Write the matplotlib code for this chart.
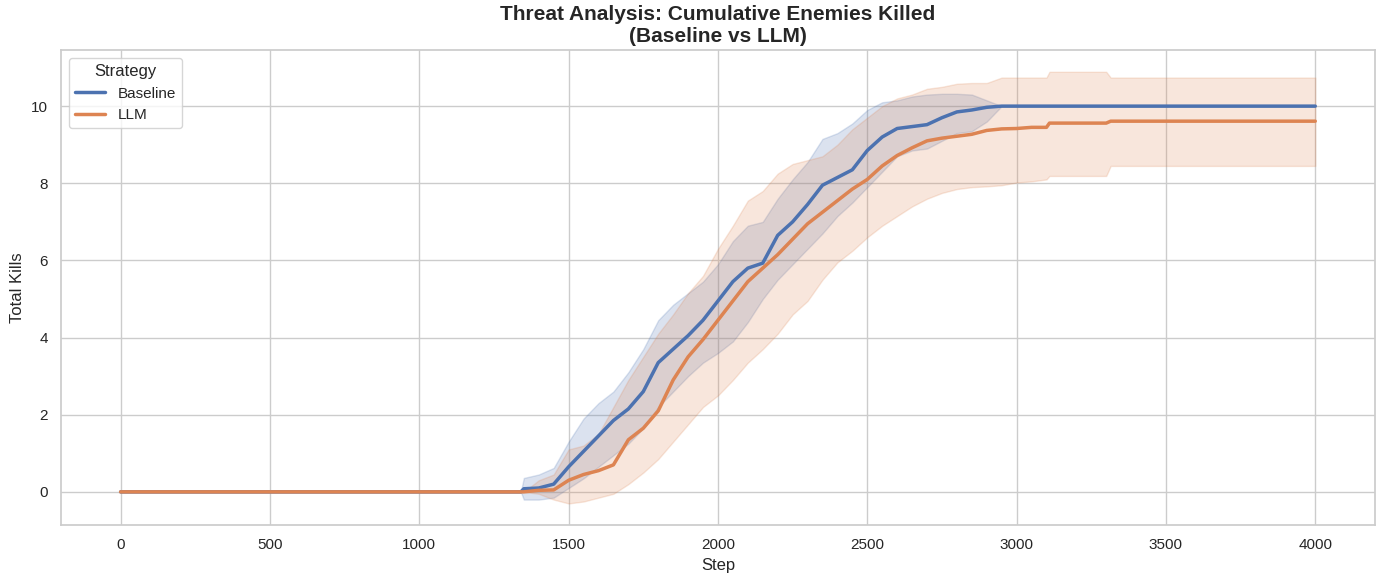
import matplotlib
matplotlib.use("Agg")
import matplotlib.pyplot as plt
import seaborn as sns
import numpy as np

steps = [0, 1340, 1350, 1400, 1450, 1500, 1550, 1600, 1650, 1700, 1750, 1800, 1850,
         1900, 1950, 2000, 2050, 2100, 2150, 2200, 2250, 2300, 2350, 2400, 2450,
         2500, 2550, 2600, 2650, 2700, 2750, 2800, 2850, 2900, 2950, 3000, 3050,
         3100, 3110, 3300, 3315, 4000]

baseline_mean = [0, 0, 0.08, 0.1, 0.2, 0.65, 1.05, 1.45, 1.85, 2.15, 2.6, 3.35, 3.7,
                 4.05, 4.45, 4.95, 5.45, 5.8, 5.93, 6.65, 7.0, 7.45, 7.95, 8.15, 8.35,
                 8.85, 9.2, 9.42, 9.47, 9.52, 9.7, 9.85, 9.9, 9.97, 10, 10, 10,
                 10, 10, 10, 10, 10]
baseline_low = [0, 0, -0.2, -0.2, -0.15, 0.1, 0.35, 0.65, 0.95, 1.25, 1.65, 2.2, 2.6,
                3.0, 3.35, 3.6, 3.9, 4.4, 5.0, 5.5, 5.9, 6.3, 6.7, 7.15, 7.5,
                7.9, 8.3, 8.7, 8.85, 8.9, 9.1, 9.3, 9.35, 9.6, 10, 10, 10,
                10, 10, 10, 10, 10]
baseline_high = [0, 0, 0.36, 0.45, 0.62, 1.3, 1.9, 2.3, 2.6, 3.1, 3.7, 4.45, 4.85,
                 5.15, 5.45, 5.9, 6.5, 6.9, 7.0, 7.6, 8.1, 8.55, 9.15, 9.3, 9.55,
                 9.9, 10.1, 10.15, 10.25, 10.3, 10.32, 10.32, 10.3, 10.15, 10, 10, 10,
                 10, 10, 10, 10, 10]

llm_mean = [0, 0, 0, 0.04, 0.05, 0.3, 0.45, 0.55, 0.7, 1.35, 1.65, 2.1, 2.9,
            3.5, 3.95, 4.45, 4.95, 5.45, 5.8, 6.15, 6.55, 6.95, 7.25, 7.55, 7.85,
            8.1, 8.45, 8.72, 8.92, 9.1, 9.17, 9.22, 9.27, 9.37, 9.41, 9.42, 9.45,
            9.45, 9.56, 9.56, 9.61, 9.61]
llm_low = [0, 0, 0, -0.05, -0.2, -0.3, -0.25, -0.15, -0.05, 0.2, 0.5, 0.85, 1.3,
           1.75, 2.2, 2.5, 2.9, 3.35, 3.7, 4.1, 4.6, 4.95, 5.5, 5.95, 6.25,
           6.6, 6.9, 7.15, 7.4, 7.6, 7.75, 7.85, 7.9, 7.92, 7.95, 8.02, 8.05,
           8.1, 8.19, 8.19, 8.45, 8.45]
llm_high = [0, 0, 0, 0.3, 0.45, 1.1, 1.2, 1.5, 2.2, 2.9, 3.5, 4.1, 4.6,
            5.15, 5.6, 6.3, 6.9, 7.55, 7.8, 8.25, 8.5, 8.6, 8.7, 9.0, 9.4,
            9.7, 10.0, 10.2, 10.3, 10.45, 10.5, 10.58, 10.6, 10.6, 10.74, 10.74, 10.74,
            10.74, 10.89, 10.89, 10.74, 10.74]

strategies = ["Baseline", "LLM"]

sns.set_theme(style="whitegrid")
plt.rcParams['font.family'] = ['Liberation Sans', 'DejaVu Sans']
pal = sns.color_palette("deep")
colors = [pal[0], pal[1]]

fig, ax = plt.subplots(figsize=(13.84, 5.84), dpi=100)
fig.subplots_adjust(left=0.044, right=0.9935, top=0.914, bottom=0.101)

series = [(baseline_mean, baseline_low, baseline_high),
          (llm_mean, llm_low, llm_high)]
x = np.array(steps)
for name, (m, lo, hi), c in zip(strategies, series, colors):
    ax.fill_between(x, lo, hi, color=c, alpha=0.2, linewidth=1)
    ax.plot(x, m, color=c, linewidth=2.5, label=name)

ax.set_title("Threat Analysis: Cumulative Enemies Killed\n(Baseline vs LLM)",
             fontsize=15, fontweight="bold")
ax.set_xlabel("Step", fontsize=12)
ax.set_ylabel("Total Kills", fontsize=12)
ax.legend(title="Strategy", loc="upper left", fontsize=11, title_fontsize=12)

fig.savefig("out.png", dpi=100)
